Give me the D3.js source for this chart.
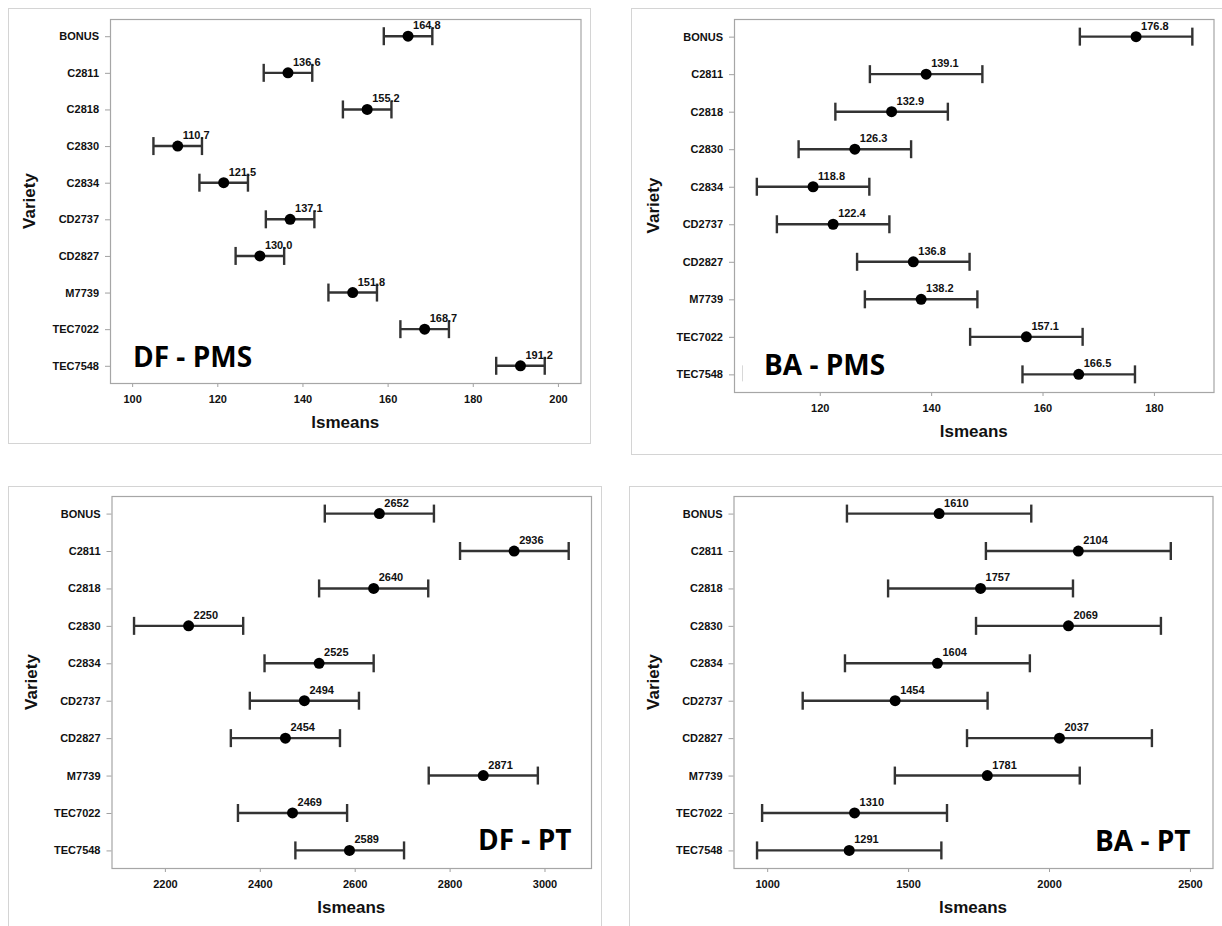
<!DOCTYPE html>
<html>
<head>
<meta charset="utf-8">
<script src="https://cdn.jsdelivr.net/npm/d3@7"></script>
<style>
  body { margin: 0; background: #fff; }
  svg { display: block; }
</style>
</head>
<body>
<div id="chart"></div>
<script>
// categories shared by all four panels
const varieties = ["BONUS", "C2811", "C2818", "C2830", "C2834", "CD2737", "CD2827", "M7739", "TEC7022", "TEC7548"];

// DF - PMS
const dfPmsMeans = [164.8, 136.6, 155.2, 110.7, 121.5, 137.1, 130.0, 151.8, 168.7, 191.2];
const dfPmsLower = [159.1, 130.9, 149.5, 105.0, 115.8, 131.4, 124.3, 146.1, 163.0, 185.5];
const dfPmsUpper = [170.5, 142.3, 160.9, 116.4, 127.2, 142.8, 135.7, 157.5, 174.4, 196.9];
const dfPmsLabels = ["164.8", "136.6", "155.2", "110.7", "121.5", "137.1", "130.0", "151.8", "168.7", "191.2"];
const dfPmsTicks = [100, 120, 140, 160, 180, 200];

// BA - PMS
const baPmsMeans = [176.8, 139.1, 132.9, 126.3, 118.8, 122.4, 136.8, 138.2, 157.1, 166.5];
const baPmsLower = [166.7, 129.0, 122.8, 116.2, 108.7, 112.3, 126.7, 128.1, 147.0, 156.4];
const baPmsUpper = [186.9, 149.2, 143.0, 136.4, 128.9, 132.5, 146.9, 148.3, 167.2, 176.6];
const baPmsLabels = ["176.8", "139.1", "132.9", "126.3", "118.8", "122.4", "136.8", "138.2", "157.1", "166.5"];
const baPmsTicks = [120, 140, 160, 180];

// DF - PT
const dfPtMeans = [2652, 2936, 2640, 2250, 2525, 2494, 2454, 2871, 2469, 2589];
const dfPtLower = [2537, 2822, 2525, 2135, 2410, 2379, 2339, 2756, 2354, 2475];
const dfPtUpper = [2767, 3051, 2755, 2365, 2640, 2609, 2569, 2986, 2584, 2704];
const dfPtLabels = ["2652", "2936", "2640", "2250", "2525", "2494", "2454", "2871", "2469", "2589"];
const dfPtTicks = [2200, 2400, 2600, 2800, 3000];

// BA - PT
const baPtMeans = [1610, 2104, 1757, 2069, 1604, 1454, 2037, 1781, 1310, 1291];
const baPtLower = [1283, 1776, 1429, 1741, 1276, 1126, 1709, 1453, 982, 964];
const baPtUpper = [1937, 2432, 2085, 2397, 1932, 1782, 2365, 2109, 1638, 1618];
const baPtLabels = ["1610", "2104", "1757", "2069", "1604", "1454", "2037", "1781", "1310", "1291"];
const baPtTicks = [1000, 1500, 2000, 2500];

const width = 1222, height = 926;
const labelFont = "'Liberation Sans', Arial, sans-serif";
const titleFont = "'Open Sans', 'Noto Sans', sans-serif";

const svg = d3.select("#chart")
  .append("svg")
  .attr("width", width)
  .attr("height", height);

const panels = [
  {
    title: "DF - PMS", means: dfPmsMeans, lower: dfPmsLower, upper: dfPmsUpper, labels: dfPmsLabels, ticks: dfPmsTicks,
    domain: [94.8, 205.3],
    frame: {x: 8.5, y: 8.5, w: 582, h: 435},
    plot: {l: 110, t: 19, r: 580.5, b: 383},
    titlePos: [133, 367]
  },
  {
    title: "BA - PMS", means: baPmsMeans, lower: baPmsLower, upper: baPmsUpper, labels: baPmsLabels, ticks: baPmsTicks,
    domain: [104.6, 190.7],
    frame: {x: 631.5, y: 8.5, w: 620, h: 446},
    plot: {l: 734, t: 19, r: 1213.5, b: 392},
    titlePos: [764, 375],
    mark: true
  },
  {
    title: "DF - PT", means: dfPtMeans, lower: dfPtLower, upper: dfPtUpper, labels: dfPtLabels, ticks: dfPtTicks,
    domain: [2087.5, 3098],
    frame: {x: 8.5, y: 486.5, w: 593, h: 500},
    plot: {l: 111.5, t: 496, r: 591, b: 868},
    titlePos: [478, 850]
  },
  {
    title: "BA - PT", means: baPtMeans, lower: baPtLower, upper: baPtUpper, labels: baPtLabels, ticks: baPtTicks,
    domain: [880.5, 2580],
    frame: {x: 629.5, y: 486.5, w: 620, h: 500},
    plot: {l: 733.5, t: 496, r: 1212.5, b: 868},
    titlePos: [1095, 851]
  }
];

panels.forEach(drawPanel);

function drawPanel(p) {
  const g = svg.append("g");

  // outer light frame
  g.append("rect")
    .attr("x", p.frame.x)
    .attr("y", p.frame.y)
    .attr("width", p.frame.w)
    .attr("height", p.frame.h)
    .attr("fill", "none")
    .attr("stroke", "#d4d4d4")
    .attr("stroke-width", 1);

  const x = d3.scaleLinear()
    .domain(p.domain)
    .range([p.plot.l, p.plot.r]);

  const y = d3.scalePoint()
    .domain(varieties)
    .range([p.plot.t, p.plot.b])
    .padding(0.47);

  // x axis
  const xAxis = g.append("g")
    .attr("transform", `translate(0,${p.plot.b})`)
    .call(d3.axisBottom(x).tickValues(p.ticks).tickSize(4).tickPadding(8).tickFormat(d3.format("d")));
  xAxis.select(".domain").remove();
  xAxis.selectAll(".tick line").attr("stroke", "#a0a0a0");
  xAxis.selectAll(".tick text")
    .attr("fill", "#111")
    .style("font", `bold 11px ${labelFont}`);

  // y axis
  const yAxis = g.append("g")
    .attr("transform", `translate(${p.plot.l},0)`)
    .call(d3.axisLeft(y).tickSize(5).tickPadding(6));
  yAxis.select(".domain").remove();
  yAxis.selectAll(".tick line").attr("stroke", "#a0a0a0");
  yAxis.selectAll(".tick text")
    .attr("fill", "#111")
    .style("font", `bold 11px ${labelFont}`);

  // plot frame
  g.append("rect")
    .attr("x", p.plot.l + 0.5)
    .attr("y", p.plot.t + 0.5)
    .attr("width", p.plot.r - p.plot.l)
    .attr("height", p.plot.b - p.plot.t)
    .attr("fill", "none")
    .attr("stroke", "#a6a6a6")
    .attr("stroke-width", 1.2);

  // axis titles
  g.append("text")
    .attr("x", (p.plot.l + p.plot.r) / 2)
    .attr("y", p.plot.b + 45)
    .attr("text-anchor", "middle")
    .attr("fill", "#111")
    .style("font", `bold 17px ${labelFont}`)
    .text("lsmeans");

  g.append("text")
    .attr("transform", `translate(${p.plot.l - 75},${(p.plot.t + p.plot.b) / 2}) rotate(-90)`)
    .attr("text-anchor", "middle")
    .attr("fill", "#111")
    .style("font", `bold 17px ${labelFont}`)
    .text("Variety");

  const rows = varieties.map((v, i) => ({
    v, mean: p.means[i], lo: p.lower[i], hi: p.upper[i], label: p.labels[i]
  }));

  const cap = 9;
  const item = g.selectAll(".item")
    .data(rows)
    .join("g")
    .attr("class", "item");

  item.append("line")
    .attr("x1", d => x(d.lo))
    .attr("x2", d => x(d.hi))
    .attr("y1", d => y(d.v))
    .attr("y2", d => y(d.v))
    .attr("stroke", "#333")
    .attr("stroke-width", 2.4);

  item.append("line")
    .attr("x1", d => x(d.lo))
    .attr("x2", d => x(d.lo))
    .attr("y1", d => y(d.v) - cap)
    .attr("y2", d => y(d.v) + cap)
    .attr("stroke", "#333")
    .attr("stroke-width", 2.4);

  item.append("line")
    .attr("x1", d => x(d.hi))
    .attr("x2", d => x(d.hi))
    .attr("y1", d => y(d.v) - cap)
    .attr("y2", d => y(d.v) + cap)
    .attr("stroke", "#333")
    .attr("stroke-width", 2.4);

  item.append("circle")
    .attr("cx", d => x(d.mean))
    .attr("cy", d => y(d.v))
    .attr("r", 5.5)
    .attr("fill", "#000");

  item.append("text")
    .attr("x", d => x(d.mean) + 5)
    .attr("y", d => y(d.v) - 7)
    .attr("fill", "#111")
    .style("font", `bold 11px ${labelFont}`)
    .text(d => d.label);

  // panel label
  g.append("text")
    .attr("x", p.titlePos[0])
    .attr("y", p.titlePos[1])
    .attr("fill", "#000")
    .style("font", `bold 28px ${titleFont}`)
    .text(p.title);

  // small stray mark left of the BA - PMS label
  if (p.mark) {
    g.append("line")
      .attr("x1", p.plot.l + 8.5)
      .attr("x2", p.plot.l + 8.5)
      .attr("y1", y("TEC7548") - 9)
      .attr("y2", y("TEC7548") + 7)
      .attr("stroke", "#d8d8d8")
      .attr("stroke-width", 1);
  }
}
</script>
</body>
</html>
